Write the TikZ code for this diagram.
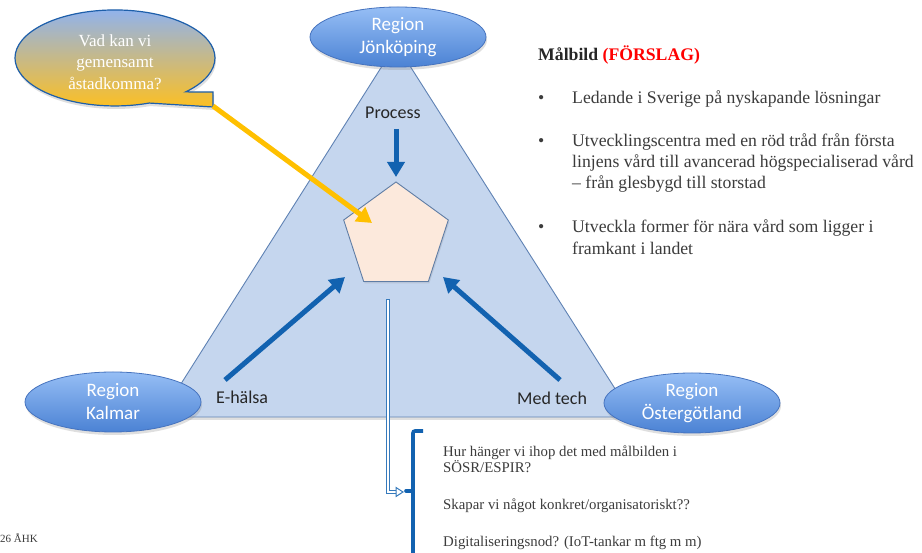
\documentclass[tikz,border=0pt]{standalone}
\usepackage{fontspec}
\setmainfont{Liberation Serif}
\newfontfamily\carlito{Carlito}
\usetikzlibrary{shapes.geometric,arrows.meta,shadows}
\definecolor{tri}{RGB}{197,214,238}
\definecolor{triedge}{RGB}{95,130,180}
\definecolor{elltop}{RGB}{150,190,245}
\definecolor{ellbot}{RGB}{75,130,212}
\definecolor{elledge}{RGB}{70,115,190}
\definecolor{arrblue}{RGB}{18,98,176}
\definecolor{gold}{RGB}{255,192,0}
\definecolor{pentfill}{RGB}{252,233,220}
\definecolor{pentedge}{RGB}{95,125,165}
\definecolor{txt}{RGB}{60,60,60}
\definecolor{bubtop}{RGB}{140,178,245}
\definecolor{bubbot}{RGB}{255,192,30}
\definecolor{bubedge}{RGB}{30,95,170}
\begin{document}
\begin{tikzpicture}[x=1pt,y=1pt,
 region/.style={ellipse, draw=elledge, line width=0.8pt, top color=elltop, bottom color=ellbot,
   minimum width=176pt, minimum height=60pt, inner sep=0pt, text=white,
   font=\carlito\fontsize{19}{23}\selectfont, align=center,
   drop shadow={opacity=0.25, shadow xshift=1pt, shadow yshift=-3pt}},
 lab/.style={font=\carlito\fontsize{18}{22}\selectfont, text=black!85, inner sep=0pt, anchor=base west},
 bigarrow/.style={arrblue, line width=5pt, -{Triangle[width=17pt,length=15pt]}},
 rtext/.style={font=\fontsize{17.7}{21}\selectfont, text=txt, inner sep=0pt, anchor=base west},
 btext/.style={font=\fontsize{14.8}{17}\selectfont, text=txt, inner sep=0pt, anchor=base west},
]
\useasboundingbox (0,0) rectangle (922,553);
\fill[white] (0,0) rectangle (922,553);

% triangle
\path[fill=tri, draw=triedge, line width=0.9pt,
  drop shadow={opacity=0.25, shadow xshift=1pt, shadow yshift=-3pt}]
  (160,136) -- (633,136) -- (396,509) -- cycle;

% regions
\node[region] (jkp) at (398,516) {Region\\Jönköping};
\node[region] (kal) at (113,151) {Region\\Kalmar};
\node[region] (ost) at (692,150) {Region\\Östergötland};

% pentagon
\node[regular polygon, regular polygon sides=5, minimum size=110pt, inner sep=0pt, outer sep=0pt,
  fill=pentfill, draw=pentedge, line width=0.9pt,
  drop shadow={opacity=0.2, shadow xshift=1pt, shadow yshift=-2pt}] (pent) at (396,316) {};

% labels
\node[lab] (proc) at (365,434) {Process};
\node[lab] (eh) at (216,149) {E-hälsa};
\node[lab] (mt) at (517,148) {Med tech};

% blue arrows
\coordinate (pa1) at (396,424);
\coordinate (pa2) at (396,376);
\coordinate (la1) at (225,173);
\coordinate (la2) at (345,276);
\coordinate (ra1) at (560,173);
\coordinate (ra2) at (443,276);
\draw[bigarrow] (pa1) -- (pa2);
\draw[bigarrow] (la1) -- (la2);
\draw[bigarrow] (ra1) -- (ra2);

% speech bubble
\path[draw=bubedge, line width=1.2pt, top color=bubtop, bottom color=bubbot,
  drop shadow={opacity=0.25, shadow xshift=1pt, shadow yshift=-3pt}]
  (185.7,461.1) arc[start angle=-45, end angle=290, x radius=100pt, y radius=48pt]
  -- (213,446) -- (213,461) -- cycle;
\node[font=\fontsize{17}{21.5}\selectfont, text=white, align=center, inner sep=0pt] (q) at (115,491)
  {Vad kan vi\\gemensamt\\åstadkomma?};

% yellow arrow
\coordinate (ya1) at (213,447);
\coordinate (ya2) at (372,330);
\draw[gold, line width=5pt, -{Triangle[width=17pt,length=15pt]}] (ya1) -- (ya2);

% hollow arrow
\coordinate (ha1) at (388,254);
\coordinate (hab) at (388,61);
\coordinate (ha2) at (403,61);
\draw[arrblue!85, line width=4.6pt, line join=miter] (ha1) -- (hab) -- ([xshift=-5pt]ha2);
\draw[white, line width=1.8pt, line join=miter] ([yshift=-1.4pt]ha1) -- (hab) -- ([xshift=-5pt]ha2);
\draw[arrblue!85, line width=1pt, fill=white] ([xshift=-7pt,yshift=4.5pt]ha2) -- (ha2) -- ([xshift=-7pt,yshift=-4.5pt]ha2) -- cycle;

% bracket
\coordinate (br1) at (423,122);
\coordinate (br2) at (413,122);
\coordinate (br3) at (413,-5);
\coordinate (brm) at (413,62);
\coordinate (brn) at (406,62);
\draw[arrblue, line width=3.6pt, rounded corners=2pt] (br1) -- (br2) -- (br3);
\draw[arrblue, line width=3.6pt, line cap=round] (brm) -- (brn);

% right text
\node[anchor=base west, inner sep=0pt, font=\fontsize{17.7}{21}\selectfont\bfseries, text=black!85] (mb) at (538,492)
  {Målbild \textcolor{red}{(FÖRSLAG)}};
\node[rtext] (b1) at (538,449) {•};
\node[rtext] (t1) at (572,449) {Ledande i Sverige på nyskapande lösningar};
\node[rtext] (b2) at (538,406) {•};
\node[rtext] (t2a) at (572,406) {Utvecklingscentra med en röd tråd från första};
\node[rtext] (t2b) at (572,385) {linjens vård till avancerad högspecialiserad vård};
\node[rtext] (t2c) at (572,364) {– från glesbygd till storstad};
\node[rtext] (b3) at (538,320) {•};
\node[rtext] (t3a) at (572,320) {Utveckla former för nära vård som ligger i};
\node[rtext] (t3b) at (572,298) {framkant i landet};

% bottom text
\node[btext] (q1a) at (443,96) {Hur hänger vi ihop det med målbilden i};
\node[btext] (q1b) at (443,80) {SÖSR/ESPIR?};
\node[btext] (q2) at (443,43) {Skapar vi något konkret/organisatoriskt??};
\node[btext] (q3) at (443,6) {Digitaliseringsnod? (IoT-tankar m ftg m m)};

% footer
\node[anchor=base west, inner sep=0pt, font=\fontsize{11}{13}\selectfont, text=txt] (ft) at (0,10) {26 ÅHK};
\end{tikzpicture}
\end{document}
